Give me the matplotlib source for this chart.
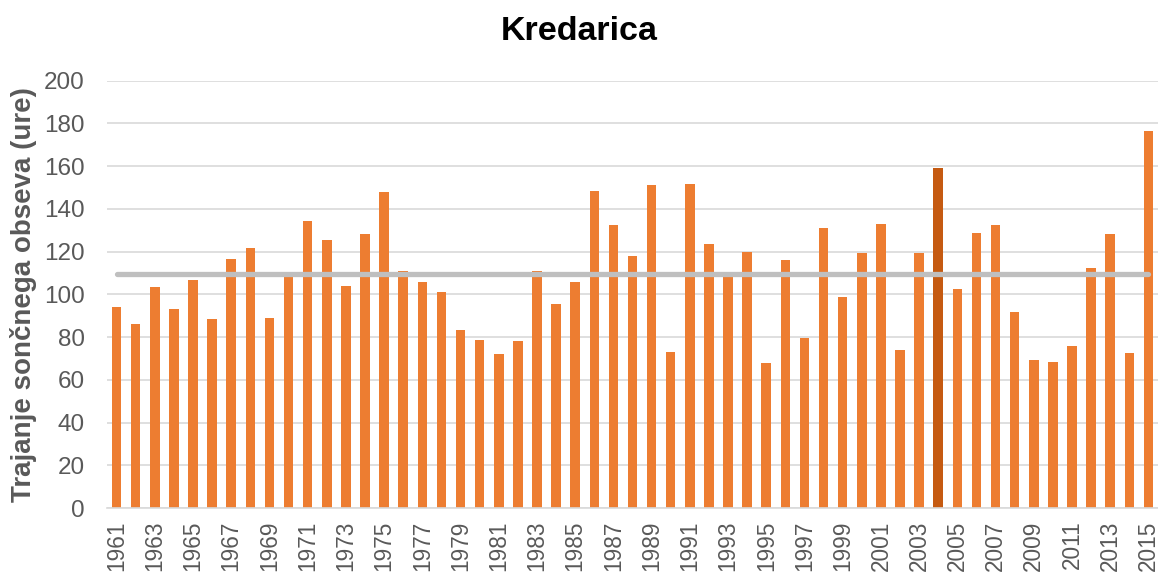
import matplotlib.pyplot as plt
import numpy as np

plt.rcParams['font.family'] = ['Liberation Sans', 'DejaVu Sans']

# sunshine duration at Kredarica (hours)
years = list(range(1961, 2016))
hours = [94.1, 86.1, 103.3, 93.3, 106.6, 88.3, 116.6, 121.6, 89.1, 108.1,
         134.2, 125.3, 103.8, 128.3, 148.1, 110.8, 105.9, 101.3, 83.3, 78.6,
         71.9, 78.0, 110.8, 95.5, 105.8, 148.3, 132.5, 118.0, 151.4, 72.8,
         151.6, 123.4, 108.1, 119.8, 67.7, 116.3, 79.5, 130.9, 98.8, 119.2,
         133.1, 74.1, 119.5, 159.1, 102.7, 128.9, 132.5, 91.6, 69.2, 68.3,
         75.8, 112.5, 128.4, 72.7, 176.6]
highlight_year = 2004
mean_hours = 109.4

bar_color = '#ED7D31'
hl_color = '#C55A11'
grey_text = '#595959'

fig = plt.figure(figsize=(11.58, 5.75), dpi=100)
ax = fig.add_axes([0.0924, 0.1165, 0.9076, 0.7432])

x = np.arange(len(years))
colors = [hl_color if y == highlight_year else bar_color for y in years]
ax.bar(x, hours, width=0.5, color=colors, zorder=2)

# long-term average line
ax.plot([x[0], x[-1]], [mean_hours, mean_hours], color='#BFBFBF', lw=3.8,
        solid_capstyle='round', zorder=3)

ax.set_xlim(-0.5, len(years) - 0.5)
ax.set_ylim(0, 200)
ax.set_yticks(range(0, 201, 20))
ax.yaxis.grid(True, color='#D9D9D9', lw=1.2, zorder=0)
ax.set_axisbelow(True)

ax.set_xticks(x[::2])
ax.set_xticklabels([str(y) for y in years[::2]], rotation=90, va='top')
ax.tick_params(axis='x', length=0, pad=9, labelsize=16.3, labelcolor=grey_text)
ax.tick_params(axis='y', length=0, pad=16, labelsize=17.5, labelcolor=grey_text)

for s in ['top', 'right', 'left']:
    ax.spines[s].set_visible(False)
ax.spines['bottom'].set_color('#D9D9D9')
ax.spines['bottom'].set_linewidth(1.2)

ax.set_ylabel('Trajanje sončnega obseva (ure)', fontsize=20,
              fontweight='bold', color=grey_text)
ax.yaxis.set_label_coords(-0.0666, 0.5)

fig.text(0.5, 1 - 31 / 575, 'Kredarica', ha='center', va='center',
         fontsize=24.5, fontweight='bold', color='black')

fig.savefig('out.png', dpi=100)
